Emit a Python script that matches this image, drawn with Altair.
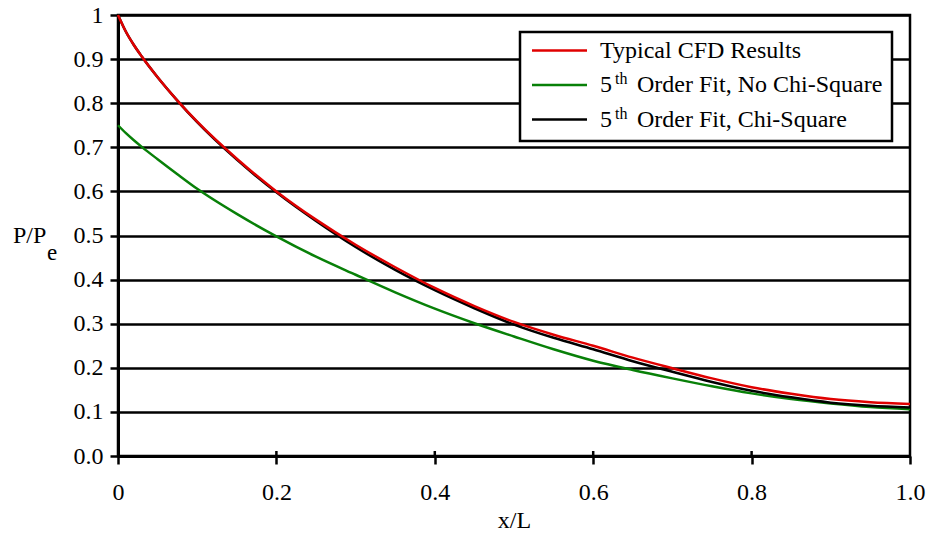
import altair as alt
import pandas as pd

# Nozzle wall pressure ratio along the length
x_over_L = [0.0, 0.01, 0.02, 0.03, 0.05, 0.075, 0.1, 0.15, 0.2, 0.25, 0.3,
            0.35, 0.4, 0.45, 0.5, 0.55, 0.6, 0.65, 0.7, 0.75, 0.8, 0.85, 0.9, 0.95, 1.0]
cfd = [1.0, 0.962, 0.932, 0.906, 0.859, 0.806, 0.758, 0.674, 0.6, 0.536, 0.479,
       0.428, 0.381, 0.34, 0.304, 0.275, 0.25, 0.223, 0.199, 0.176, 0.156, 0.141,
       0.129, 0.122, 0.118]
fit_no_chi = [0.75, 0.732, 0.716, 0.701, 0.673, 0.639, 0.606, 0.549, 0.498, 0.452, 0.411,
              0.371, 0.334, 0.301, 0.271, 0.242, 0.216, 0.195, 0.176, 0.158, 0.142, 0.129,
              0.119, 0.111, 0.106]
fit_chi = [1.0, 0.962, 0.932, 0.906, 0.859, 0.806, 0.757, 0.672, 0.598, 0.533, 0.474,
           0.422, 0.376, 0.335, 0.298, 0.268, 0.242, 0.215, 0.191, 0.168, 0.148, 0.133,
           0.121, 0.114, 0.11]

series_names = ["Typical CFD Results", "5th Order Fit, No Chi-Square", "5th Order Fit, Chi-Square"]
series_values = [cfd, fit_no_chi, fit_chi]
series_colors = ["#e00000", "#088008", "#000000"]

x_ticks = [0.0, 0.2, 0.4, 0.6, 0.8, 1.0]
y_ticks = [0.0, 0.1, 0.2, 0.3, 0.4, 0.5, 0.6, 0.7, 0.8, 0.9, 1.0]

FONT = ("Liberation Serif, Tinos, Nimbus Roman, FreeSerif, "
        "Noto Serif, DejaVu Serif, Times New Roman, Times, serif")
W, H = 792, 441

rows = []
for name, vals in zip(series_names, series_values):
    for xv, yv in zip(x_over_L, vals):
        rows.append({"series": name, "x": xv, "y": yv})
df = pd.DataFrame(rows)

x_enc = alt.X(
    "x:Q",
    scale=alt.Scale(domain=[0, 1], nice=False, zero=False),
    axis=alt.Axis(
        values=x_ticks,
        labelExpr="datum.value == 0 ? '0' : format(datum.value, '.1f')",
        grid=False,
        tickSize=8,
        labelPadding=16,
        labelFlush=False,
        title="x/L",
        titleY=71,
        titleBaseline="alphabetic",
    ),
)
y_enc = alt.Y(
    "y:Q",
    scale=alt.Scale(domain=[0, 1], nice=False, zero=False),
    axis=alt.Axis(
        values=y_ticks,
        labelExpr="datum.value == 1 ? '1' : format(datum.value, '.1f')",
        grid=True,
        tickSize=8,
        labelPadding=7,
        title=None,
    ),
)

layers = []
# curves: green, black, then red on top
for idx in [1, 2, 0]:
    name = series_names[idx]
    layers.append(
        alt.Chart(df[df["series"] == name])
        .mark_line(strokeWidth=2.5, interpolate="monotone", color=series_colors[idx])
        .encode(x=x_enc, y=y_enc)
    )

# inner half of the x-axis ticks
tick_df = pd.DataFrame({"t": x_ticks[1:-1]})
layers.append(
    alt.Chart(tick_df)
    .mark_rule(color="black", strokeWidth=2.5)
    .encode(x=alt.X("t:Q", scale=alt.Scale(domain=[0, 1], nice=False)),
            y=alt.value(H), y2=alt.value(H - 5))
)

one = pd.DataFrame({"k": [0]})

# legend box
layers.append(
    alt.Chart(one)
    .mark_rect(fill="white", stroke="black", strokeWidth=2.5)
    .encode(x=alt.value(402), x2=alt.value(774), y=alt.value(17), y2=alt.value(126))
)

row_base = [42.5, 77.0, 111.5]
for i, name in enumerate(series_names):
    base = row_base[i]
    layers.append(
        alt.Chart(one)
        .mark_rule(color=series_colors[i], strokeWidth=2.5)
        .encode(x=alt.value(414), x2=alt.value(469), y=alt.value(base - 7))
    )
    if i == 0:
        layers.append(
            alt.Chart(one)
            .mark_text(text=name, font=FONT, fontSize=24, align="left",
                       baseline="alphabetic", color="black")
            .encode(x=alt.value(482), y=alt.value(base))
        )
    else:
        rest = name.split("th ", 1)[1]
        layers.append(
            alt.Chart(one)
            .mark_text(text="5", font=FONT, fontSize=24, align="left",
                       baseline="alphabetic", color="black")
            .encode(x=alt.value(482), y=alt.value(base))
        )
        layers.append(
            alt.Chart(one)
            .mark_text(text="th", font=FONT, fontSize=16, align="left",
                       baseline="alphabetic", color="black")
            .encode(x=alt.value(497), y=alt.value(base - 8))
        )
        layers.append(
            alt.Chart(one)
            .mark_text(text=rest, font=FONT, fontSize=24, align="left",
                       baseline="alphabetic", color="black")
            .encode(x=alt.value(519), y=alt.value(base))
        )

# y-axis title P/P with subscript e
layers.append(
    alt.Chart(one)
    .mark_text(text="P/P", font=FONT, fontSize=24, align="left",
               baseline="alphabetic", color="black")
    .encode(x=alt.value(-105), y=alt.value(228))
)
layers.append(
    alt.Chart(one)
    .mark_text(text="e", font=FONT, fontSize=23, align="left",
               baseline="alphabetic", color="black")
    .encode(x=alt.value(-71), y=alt.value(245))
)

chart = (
    alt.layer(*layers)
    .properties(
        width=W,
        height=H,
        autosize=alt.AutoSizeParams(type="none"),
        padding={"left": 118, "top": 15, "right": 20, "bottom": 77},
        background="white",
    )
    .configure_view(stroke="black", strokeWidth=2.5)
    .configure_axis(
        domainColor="black",
        domainWidth=3,
        tickColor="black",
        tickWidth=2.5,
        gridColor="black",
        gridWidth=2.5,
        gridOpacity=1,
        labelColor="black",
        labelFont=FONT,
        labelFontSize=24,
        titleColor="black",
        titleFont=FONT,
        titleFontSize=24,
        titleFontWeight="normal",
    )
)

chart.save("out.html", embed_options={"renderer": "svg", "actions": False})
